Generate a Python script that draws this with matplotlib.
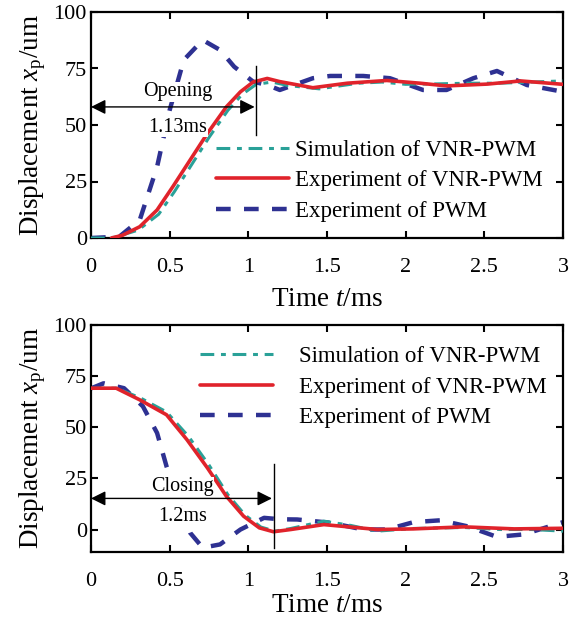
import matplotlib
matplotlib.use("Agg")
import matplotlib.pyplot as plt

plt.rcParams['font.family'] = ['Liberation Serif', 'DejaVu Serif']
plt.rcParams['mathtext.fontset'] = 'custom'
plt.rcParams['mathtext.rm'] = 'Liberation Serif'
plt.rcParams['mathtext.it'] = 'Liberation Serif:italic'

# ---------------- Data: opening ----------------
open_sim_t = [0.0, 0.08, 0.15, 0.3, 0.43, 0.53, 0.64, 0.75, 0.87, 0.96, 1.05, 1.15, 1.25, 1.45, 1.7, 1.85, 2.0, 2.2, 2.4, 2.6, 2.8, 3.0]
open_sim_x = [0.0, 0.0, 0.3, 3.5, 10.5, 20.5, 32.5, 44.5, 56.5, 63.5, 68.0, 69.0, 67.5, 66.0, 68.5, 69.0, 68.0, 68.2, 68.5, 68.5, 69.0, 69.5]

open_exp_t = [0.13, 0.2, 0.31, 0.42, 0.52, 0.63, 0.74, 0.86, 0.95, 1.03, 1.12, 1.2, 1.41, 1.63, 1.88, 2.09, 2.26, 2.52, 2.73, 3.0]
open_exp_x = [0.0, 1.2, 5.0, 12.4, 22.7, 34.5, 46.3, 58.0, 64.7, 69.0, 70.6, 69.2, 66.5, 68.5, 69.7, 68.5, 67.3, 68.1, 69.5, 68.0]

open_pwm_t = [0.0, 0.18, 0.31, 0.42, 0.5, 0.59, 0.71, 0.82, 0.91, 1.03, 1.12, 1.2, 1.41, 1.52, 1.73, 1.9, 2.11, 2.26, 2.43, 2.58, 2.77, 3.0]
open_pwm_x = [0.0, 0.6, 8.0, 31.5, 56.6, 78.8, 87.6, 83.2, 75.8, 69.2, 67.7, 65.5, 70.7, 71.7, 71.7, 70.7, 65.5, 65.5, 70.7, 73.9, 67.7, 64.7]

# ---------------- Data: closing ----------------
close_sim_t = [0.0, 0.16, 0.31, 0.48, 0.62, 0.75, 0.87, 0.98, 1.08, 1.17, 1.27, 1.48, 1.65, 1.82, 2.05, 2.37, 2.6, 2.8, 3.0]
close_sim_x = [69.1, 69.1, 64.5, 57.5, 45.5, 31.5, 17.0, 7.0, 1.2, -0.8, 0.5, 4.1, 2.0, -0.8, 0.5, 1.0, 0.0, 0.0, -0.8]

close_exp_t = [0.0, 0.16, 0.31, 0.48, 0.61, 0.74, 0.86, 0.97, 1.07, 1.16, 1.27, 1.48, 1.82, 2.05, 2.37, 2.69, 3.0]
close_exp_x = [69.1, 69.1, 63.4, 56.1, 43.9, 30.1, 16.3, 6.5, 0.8, -1.1, 0.0, 2.4, 0.0, 0.3, 1.3, 0.3, 0.6]

close_pwm_t = [0.0, 0.08, 0.21, 0.33, 0.42, 0.48, 0.55, 0.63, 0.71, 0.82, 0.95, 1.1, 1.2, 1.31, 1.52, 1.73, 1.88, 2.05, 2.22, 2.39, 2.58, 2.75, 3.0]
close_pwm_x = [69.0, 71.5, 69.1, 60.2, 47.2, 30.9, 14.6, -1.6, -8.9, -7.3, 0.0, 5.7, 5.0, 4.9, 3.3, 0.0, 0.0, 3.6, 4.5, 1.6, -3.6, -2.4, 3.6]

labels = ['Simulation of VNR-PWM', 'Experiment of VNR-PWM', 'Experiment of PWM']
xticks = [0, 0.5, 1, 1.5, 2, 2.5, 3]
xticklabels = ['0', '0.5', '1', '1.5', '2', '2.5', '3']
yticks = [0, 25, 50, 75, 100]

TEAL = '#2AA198'
RED = '#E0232B'
NAVY = '#2E3192'

fig = plt.figure(figsize=(5.84, 6.18), dpi=100)
ax1 = fig.add_axes([91/584, 1-238/618, 472/584, 226/618])
ax2 = fig.add_axes([91/584, 1-552/618, 472/584, 227/618])

def style(ax, ylim, xlabelpad):
    ax.set_xlim(0, 3)
    ax.set_ylim(*ylim)
    ax.set_xticks(xticks)
    ax.set_xticklabels(xticklabels)
    ax.set_yticks(yticks)
    ax.tick_params(direction='in', length=5, width=1.5, top=True, right=True,
                   labelsize=16)
    ax.tick_params(axis='x', pad=14.5)
    ax.tick_params(axis='y', pad=3)
    for s in ax.spines.values():
        s.set_linewidth(1.6)
    ax.set_xlabel('Time $t$/ms', fontsize=19.5, labelpad=xlabelpad)
    ax.set_ylabel('Displacement $x_{\\mathrm{p}}$/um', fontsize=19.5, labelpad=4)

def plot_set(ax, st, sx, et, ex, pt, px):
    l1, = ax.plot(st, sx, color=TEAL, lw=2.2, linestyle=(0, (4.5, 2.2, 1.6, 2.2)), zorder=3)
    l2, = ax.plot(et, ex, color=RED, lw=2.6, zorder=4, solid_capstyle='round')
    l3, = ax.plot(pt, px, color=NAVY, lw=3.2, linestyle=(0, (3.3, 3.0)), zorder=2)
    return [l1, l2, l3]

h1 = plot_set(ax1, open_sim_t, open_sim_x, open_exp_t, open_exp_x, open_pwm_t, open_pwm_x)
h2 = plot_set(ax2, close_sim_t, close_sim_x, close_exp_t, close_exp_x, close_pwm_t, close_pwm_x)
style(ax1, (0, 100), 7)
style(ax2, (-11, 100), 1.3)

# annotations top
ax1.annotate('', xy=(0, 58), xytext=(1.04, 58),
             arrowprops=dict(arrowstyle='<|-|>', color='black', lw=1.0, mutation_scale=22,
                             shrinkA=0, shrinkB=0), zorder=6)
ax1.plot([1.05, 1.05], [45.5, 76], color='black', lw=1.0, zorder=6)
ax1.text(0.55, 64.7, 'Opening', ha='center', va='center', fontsize=14.5, zorder=7,
         bbox=dict(facecolor='white', edgecolor='none', pad=0.5))
ax1.text(0.55, 49, '1.13ms', ha='center', va='center', fontsize=14.5, zorder=7,
         bbox=dict(facecolor='white', edgecolor='none', pad=0.5))

# annotations bottom
ax2.annotate('', xy=(0, 15.2), xytext=(1.15, 15.2),
             arrowprops=dict(arrowstyle='<|-|>', color='black', lw=1.0, mutation_scale=22,
                             shrinkA=0, shrinkB=0), zorder=6)
ax2.plot([1.16, 1.16], [-9, 32], color='black', lw=1.0, zorder=6)
ax2.text(0.58, 20.8, 'Closing', ha='center', va='center', fontsize=14.5, zorder=7,
         bbox=dict(facecolor='white', edgecolor='none', pad=0.5))
ax2.text(0.58, 6.6, '1.2ms', ha='center', va='center', fontsize=14.5, zorder=7,
         bbox=dict(facecolor='white', edgecolor='none', pad=0.5))

ax1.legend(h1, labels, loc='upper left', bbox_to_anchor=(0.265, 0.435), frameon=False,
           fontsize=16.5, handlelength=3.2, handletextpad=0.25, labelspacing=0.42,
           borderpad=0, borderaxespad=0)
ax2.legend(h2, labels, loc='upper left', bbox_to_anchor=(0.231, 0.907), frameon=False,
           fontsize=16.5, handlelength=3.2, handletextpad=1.1, labelspacing=0.42,
           borderpad=0, borderaxespad=0)

fig.savefig('out.png', dpi=100)
